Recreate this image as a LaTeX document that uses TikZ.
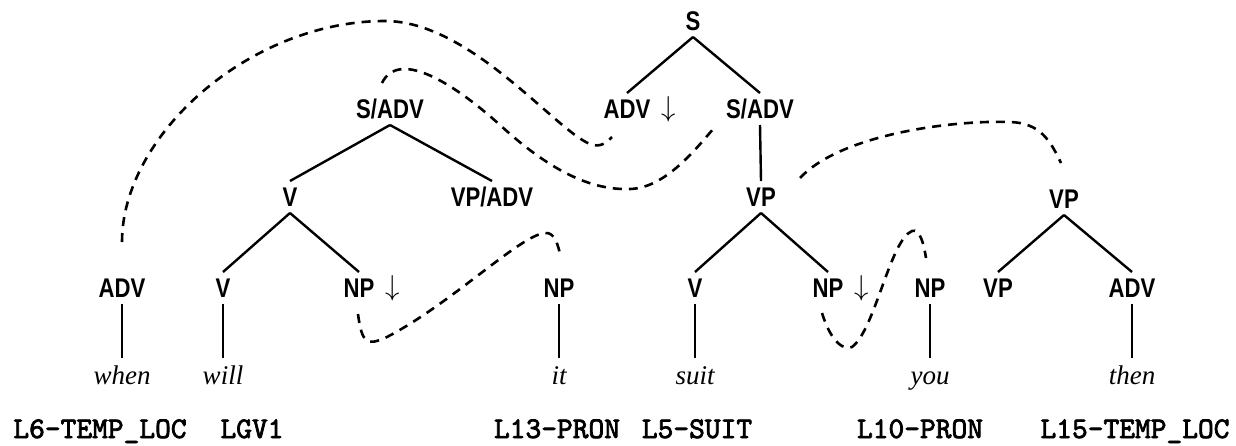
\documentclass[tikz,border=0pt]{standalone}
\usepackage{fontspec}
\newfontfamily\catfont{Liberation Sans}[FakeStretch=0.82]
\newfontfamily\wordfont{Liberation Serif}
\newfontfamily\lexfont{lmmono10-regular}[Extension=.otf, FakeBold=2.5]

\begin{document}
\begin{tikzpicture}[x=0.5pt, y=-0.5pt,
    cat/.style={font=\catfont\bfseries\fontsize{13.5}{14}\selectfont, inner sep=3pt, text height=9.6pt, text depth=0pt},
    subst/.style={label={[inner sep=0pt, label distance=2pt, font=\fontsize{14}{15}\selectfont]right:$\downarrow$}},
    word/.style={font=\wordfont\itshape\fontsize{13.5}{15}\selectfont, anchor=base, inner sep=4pt, text height=9pt, text depth=2.5pt},
    lex/.style={font=\lexfont\fontsize{15}{16}\selectfont, anchor=base, inner sep=0pt},
    branch/.style={line width=1.2pt},
    link/.style={line width=1.3pt, dash pattern=on 4.5pt off 3.5pt}]
    \useasboundingbox (0,0) rectangle (1236,445);

    % Tree for "suit"
    \node[cat] (s) at (693,21) {S};
    \node[cat, subst] (advsub) at (627,109) {ADV};
    \node[cat] (sadv) at (760,109) {S/ADV};
    \node[cat] (vp) at (761,197) {VP};
    \node[cat] (vsuit) at (695,288) {V};
    \node[cat, subst] (npsub) at (828,288) {NP};
    \draw[branch] (s.south) -- (advsub.north);
    \draw[branch] (s.south) -- (sadv.north);
    \draw[branch] (sadv.south) -- (vp.north);
    \draw[branch] (vp.south) -- (vsuit.north);
    \draw[branch] (vp.south) -- (npsub.north);

    % Tree for "will"
    \node[cat] (sadvw) at (390,109) {S/ADV};
    \node[cat] (vw) at (290,197) {V};
    \node[cat] (vpadv) at (492,197) {VP/ADV};
    \node[cat] (vwill) at (223,288) {V};
    \node[cat, subst] (npsubw) at (359,288) {NP};
    \draw[branch] (sadvw.south) -- (vw.north);
    \draw[branch] (sadvw.south) -- (vpadv.north);
    \draw[branch] (vw.south) -- (vwill.north);
    \draw[branch] (vw.south) -- (npsubw.north);

    % Tree for "then"
    \node[cat] (vpthen) at (1064,199) {VP};
    \node[cat] (vpfoot) at (998,288) {VP};
    \node[cat] (advthen) at (1132,288) {ADV};
    \draw[branch] (vpthen.south) -- (vpfoot.north);
    \draw[branch] (vpthen.south) -- (advthen.north);

    % Single anchors
    \node[cat] (advwhen) at (122,288) {ADV};
    \node[cat] (npit) at (559,288) {NP};
    \node[cat] (npyou) at (930,288) {NP};

    % Words
    \node[word] (when) at (122,384) {when};
    \node[word] (will) at (223,384) {will};
    \node[word] (it) at (559,384) {it};
    \node[word] (suit) at (695,384) {suit};
    \node[word] (you) at (930,384) {you};
    \node[word] (then) at (1132,384) {then};
    \draw[branch] (advwhen.south) -- (when.north);
    \draw[branch] (vwill.south) -- (will.north);
    \draw[branch] (npit.south) -- (it.north);
    \draw[branch] (vsuit.south) -- (suit.north);
    \draw[branch] (npyou.south) -- (you.north);
    \draw[branch] (advthen.south) -- (then.north);

    % Lexical entries
    \node[lex] (lwhen) at (100,438) {L6-TEMP\_LOC};
    \node[lex] (lwill) at (252,438) {LGV1};
    \node[lex] (lit) at (557,438) {L13-PRON};
    \node[lex] (lsuit) at (697,438) {L5-SUIT};
    \node[lex] (lyou) at (920,438) {L10-PRON};
    \node[lex] (lthen) at (1135,438) {L15-TEMP\_LOC};

    % Derivation links
    \draw[link] (122,242) .. controls (122,135) and (250,21) .. (385,21)
        .. controls (470,21) and (555,130) .. (590,144)
        .. controls (600,148) and (606,143) .. (612,137);
    \draw[link] (382,83) .. controls (398,50) and (450,80) .. (500,125)
        .. controls (560,180) and (600,190) .. (630,189)
        .. controls (665,188) and (695,150) .. (714,128);
    \draw[link] (800,178) .. controls (840,135) and (950,120) .. (1010,122)
        .. controls (1040,123) and (1050,140) .. (1061,163);
    \draw[link] (358,314) .. controls (362,345) and (368,345) .. (385,338)
        .. controls (450,305) and (520,235) .. (545,233)
        .. controls (555,232) and (558,245) .. (561,258);
    \draw[link] (822,313) .. controls (832,345) and (845,350) .. (852,347)
        .. controls (875,330) and (890,240) .. (912,231)
        .. controls (920,228) and (924,245) .. (926,258);
\end{tikzpicture}
\end{document}
